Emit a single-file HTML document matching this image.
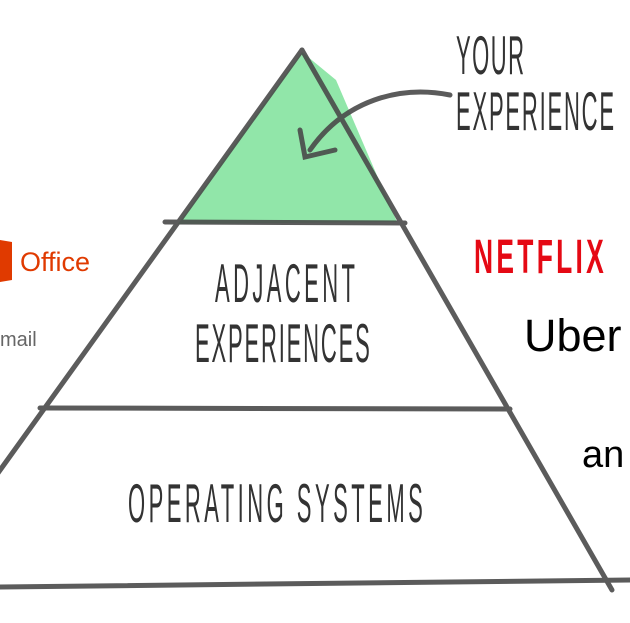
<!DOCTYPE html>
<html><head><style>
body{margin:0;background:#fff;width:630px;height:623px;overflow:hidden}
svg{display:block}
.h{font-family:"Liberation Sans",sans-serif;fill:#333;font-size:55px}
</style></head><body>
<svg width="630" height="623" viewBox="0 0 630 623">
<polygon points="302,52 336,80 397,222 178,224 245,130" fill="#7ee29a" opacity="0.85"/>
<g stroke="#4a4a4a" stroke-width="5" stroke-linecap="round" fill="none" opacity="0.9">
<line x1="302" y1="50" x2="-2" y2="473"/>
<line x1="302" y1="50" x2="612" y2="590"/>
<line x1="165" y1="222" x2="405" y2="223"/>
<line x1="40" y1="408" x2="510" y2="409"/>
<line x1="0" y1="587" x2="630" y2="580"/>
<path d="M450 95 C400 85 345 100 310 150"/>
<path d="M300 130 L305 157 L335 150"/>
</g>
<g class="h">
<text transform="translate(456,74) scale(0.4,1)" textLength="170" lengthAdjust="spacing">YOUR</text>
<text transform="translate(456,130) scale(0.4,1)" textLength="395" lengthAdjust="spacing">EXPERIENCE</text>
<text transform="translate(215,302) scale(0.4,1)" textLength="350" lengthAdjust="spacing">ADJACENT</text>
<text transform="translate(195,362) scale(0.4,1)" textLength="437" lengthAdjust="spacing">EXPERIENCES</text>
<text transform="translate(128,522) scale(0.4,1)" textLength="737" lengthAdjust="spacing">OPERATING  SYSTEMS</text>
</g>
<path d="M0 240 L12 242 L12 280 L0 282 Z" fill="#e03a00"/>
<text x="20" y="271" font-family="Liberation Sans,sans-serif" font-size="27" fill="#e03a00">Office</text>
<text x="0" y="346" font-family="Liberation Sans,sans-serif" font-size="20" fill="#666">mail</text>
<text transform="translate(474,273) scale(0.55,1)" font-family="Liberation Sans,sans-serif" font-weight="bold" font-size="48" fill="#e50914" textLength="236" lengthAdjust="spacing">NETFLIX</text>
<text x="524" y="351" font-family="Liberation Sans,sans-serif" font-size="45" fill="#000">Uber</text>
<text x="582" y="467" font-family="Liberation Sans,sans-serif" font-size="38" fill="#000">an</text>
</svg>
</body></html>
